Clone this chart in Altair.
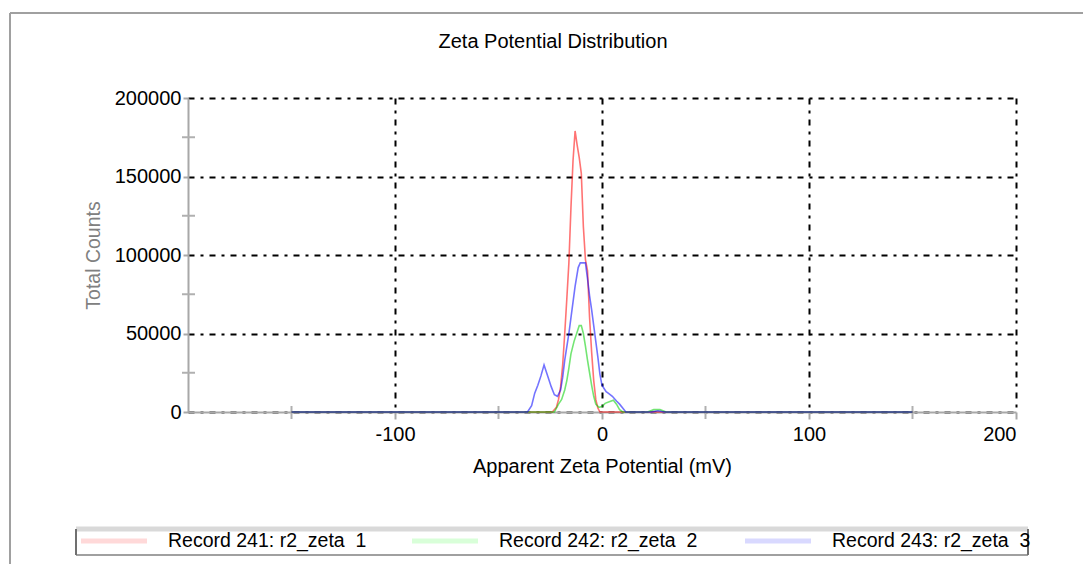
import altair as alt
import pandas as pd

FONT = "Liberation Sans"
TITLE = "Zeta Potential Distribution"

# Series labels (legend text)
labels = [
    "Record 241: r2_zeta\u00a0 1",
    "Record 242: r2_zeta\u00a0 2",
    "Record 243: r2_zeta\u00a0 3",
]
line_colors = ["#ff0000", "#00d000", "#0000ff"]
swatch_colors = ["#ffd9d9", "#d9ffd9", "#d9d9ff"]

# Record 241 (red)
red_x = [-150, -24, -22, -21, -20, -19, -18, -17, -16, -15, -14, -13, -12, -11,
         -10, -9, -8, -7, -6, -5, -4, -3, -2, -1, 150]
red_y = [0, 0, 3000, 8000, 16000, 30000, 50000, 72000, 95000, 130000, 160000,
         179000, 170000, 162000, 152000, 118000, 97000, 90000, 60000, 38000,
         20000, 8000, 2500, 0, 0]

# Record 242 (green)
green_x = [-150, -23, -21, -19.5, -18, -17, -16, -15, -13.5, -12, -11, -10, -9,
           -8, -7, -6, -5, -4, -3, -1.5, 0, 1.5, 3.5, 5.5, 7, 8.5, 10, 22, 25,
           28, 31, 150]
green_y = [0, 0, 5000, 8000, 14000, 20000, 28000, 37000, 45000, 51000, 55000,
           55000, 50000, 42000, 33000, 25000, 17000, 10000, 5000, 3000, 3500,
           5500, 6500, 7500, 5000, 1500, 0, 0, 1500, 1500, 0, 0]

# Record 243 (blue)
blue_x = [-150, -36, -34, -32.5, -31, -29.5, -28, -26, -24.5, -23, -21.5, -20,
          -19, -18, -16, -14.5, -13, -11.5, -10.5, -8, -7, -6, -5, -4, -3, -2,
          -1, 0, 1, 2, 3, 5, 7, 8.5, 10, 11.5, 24, 27, 30, 150]
blue_y = [0, 0, 4000, 12000, 17000, 23000, 30000, 22000, 16000, 11000, 10000,
          14000, 22000, 33000, 50000, 65000, 80000, 92000, 95000, 95000, 85000,
          74000, 65000, 55000, 45000, 35000, 24000, 17000, 15000, 13000, 12000,
          10000, 7000, 5000, 2500, 0, 0, 800, 0, 0]

x_ticks = [-100, 0, 100, 200]
x_minor = [-150, -50, 50, 150]
y_ticks = [0, 50000, 100000, 150000, 200000]
y_minor = [25000, 75000, 125000, 175000]

frames = []
for lab, xs, ys in zip(labels, [red_x, green_x, blue_x], [red_y, green_y, blue_y]):
    frames.append(pd.DataFrame({"series": lab, "mv": xs, "counts": ys}))
df = pd.concat(frames, ignore_index=True)

W, H = 828, 314
GRID_DASH = [6, 6, 3, 6]
PLAIN_LABEL = "'' + datum.value"

lines = alt.Chart(df).mark_line(strokeWidth=1.6, strokeOpacity=0.55).encode(
    x=alt.X(
        "mv:Q",
        scale=alt.Scale(domain=[-200, 200], nice=False, zero=False),
        axis=alt.Axis(
            title="Apparent Zeta Potential (mV)",
            values=x_ticks,
            labelExpr=PLAIN_LABEL,
            grid=True,
            gridColor="black",
            gridDash=GRID_DASH,
            gridWidth=2,
            domainColor="#a8a8a8",
            domainWidth=2,
            tickColor="#a8a8a8",
            tickWidth=2,
            tickSize=7,
            labelPadding=5,
            labelFont=FONT,
            labelFontSize=20,
            labelColor="black",
            titleFont=FONT,
            titleFontSize=20,
            titleFontWeight="normal",
            titleColor="black",
            titlePadding=12,
        ),
    ),
    y=alt.Y(
        "counts:Q",
        scale=alt.Scale(domain=[0, 200000], nice=False),
        axis=alt.Axis(
            title="Total Counts",
            values=y_ticks,
            labelExpr=PLAIN_LABEL,
            grid=True,
            gridColor="black",
            gridDash=GRID_DASH,
            gridWidth=2,
            domainColor="#a8a8a8",
            domainWidth=2,
            tickColor="#a8a8a8",
            tickWidth=2,
            tickSize=5,
            labelPadding=2,
            labelFont=FONT,
            labelFontSize=20,
            labelColor="black",
            titleFont=FONT,
            titleFontSize=19.5,
            titleFontWeight="normal",
            titleColor="#808080",
            titlePadding=11,
        ),
    ),
    color=alt.Color(
        "series:N",
        scale=alt.Scale(domain=labels, range=line_colors),
        legend=None,
    ),
)

# Minor ticks crossing the axes
x_minor_ticks = alt.Chart(pd.DataFrame({"mv": x_minor})).mark_rule(
    color="#b0b0b0", strokeWidth=2
).encode(x="mv:Q", y=alt.value(H - 6), y2=alt.value(H + 7))

y_minor_ticks = alt.Chart(pd.DataFrame({"counts": y_minor})).mark_rule(
    color="#b0b0b0", strokeWidth=2
).encode(y="counts:Q", x=alt.value(-6), x2=alt.value(7))

one = pd.DataFrame({"k": [0]})


def hrule(x1, x2, y, color, width):
    return alt.Chart(one).mark_rule(color=color, strokeWidth=width).encode(
        x=alt.value(x1), x2=alt.value(x2), y=alt.value(y)
    )


def vrule(x, y1, y2, color, width):
    return alt.Chart(one).mark_rule(color=color, strokeWidth=width).encode(
        x=alt.value(x), y=alt.value(y1), y2=alt.value(y2)
    )


# Outer page frame (top and left edges)
decor = [
    hrule(-178, 1083 - 188, -85, "#a0a0a0", 2),
    vrule(-178, -85, 564 - 98, "#a0a0a0", 2),
]

# Chart title
decor.append(
    alt.Chart(pd.DataFrame({"t": [TITLE]})).mark_text(
        align="center", baseline="middle", font=FONT, fontSize=20, color="black"
    ).encode(x=alt.value(365), y=alt.value(-56), text="t:N")
)

# Legend box below the plot
LEG_L, LEG_R, LEG_T, LEG_B = -112, 840, 431, 457
decor += [
    hrule(LEG_L, LEG_R, LEG_T, "#d9d9d9", 5),
    hrule(LEG_L, LEG_R, LEG_B, "#a0a0a0", 2),
    vrule(LEG_L, LEG_T, LEG_B, "#707070", 2),
    vrule(LEG_R, LEG_T, LEG_B, "#707070", 2),
]
entry_x = [-107, 224, 557]
ROW_Y = 443
for lab, sw, x0 in zip(labels, swatch_colors, entry_x):
    decor.append(hrule(x0, x0 + 66, ROW_Y, sw, 5))
    decor.append(
        alt.Chart(pd.DataFrame({"label": [lab]})).mark_text(
            align="left", baseline="middle", font=FONT, fontSize=19.5, color="black"
        ).encode(x=alt.value(x0 + 87), y=alt.value(ROW_Y), text="label:N")
    )

chart = alt.layer(
    *decor, x_minor_ticks, y_minor_ticks, lines
).properties(
    width=W,
    height=H,
    autosize=alt.AutoSizeParams(type="none"),
    padding={"left": 188, "top": 98, "right": 1083 - 188 - W, "bottom": 564 - 98 - H},
    background="white",
).configure_view(stroke=None)

chart.save("out.html", embed_options={"renderer": "svg", "actions": False})
